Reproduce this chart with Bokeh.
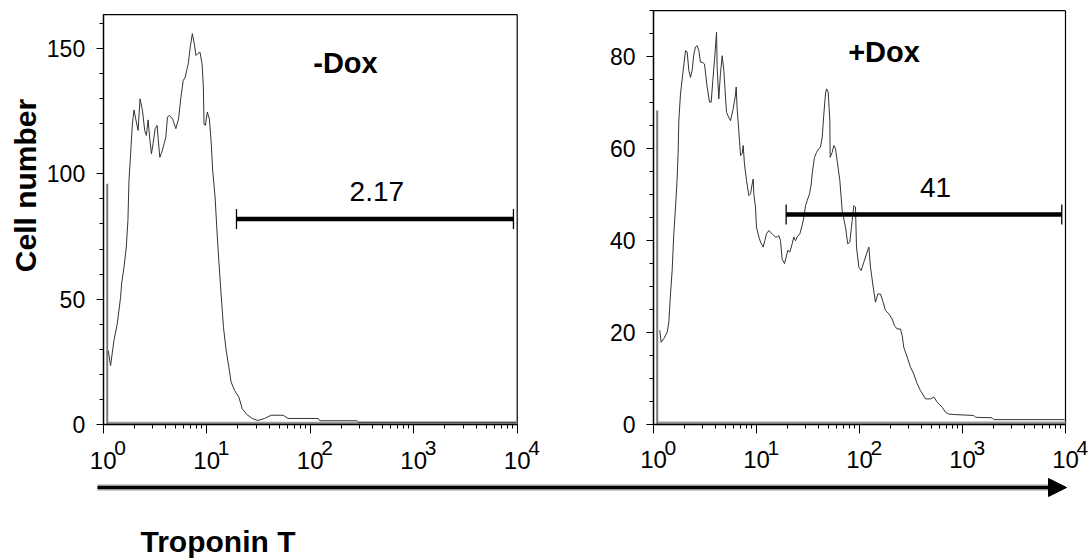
import math
from bokeh.plotting import figure
from bokeh.models import (Range1d, FixedTicker, Arrow, NormalHead, LogScale,
                          LogAxis, LinearAxis)
from bokeh.core.properties import value
from bokeh.embed import file_html
from bokeh.resources import INLINE

FONT = "Liberation Sans"

# ---------------- data (log10 fluorescence, cell counts) ----------------
neg_log_fl = [0.049, 0.071, 0.104, 0.136, 0.168, 0.178, 0.201, 0.223, 0.239, 0.249,
              0.265, 0.282, 0.298, 0.314, 0.337, 0.356, 0.379, 0.401, 0.417, 0.434,
              0.450, 0.466, 0.482, 0.502, 0.521, 0.531, 0.547, 0.566, 0.589, 0.605,
              0.621, 0.638, 0.670, 0.702, 0.728, 0.751, 0.773, 0.793, 0.806, 0.822,
              0.841, 0.861, 0.880, 0.896, 0.913, 0.935, 0.955, 0.968, 0.974, 0.987,
              1.006, 1.026, 1.042, 1.058, 1.081, 1.097, 1.117, 1.139, 1.162, 1.188,
              1.214, 1.236, 1.269, 1.311, 1.343, 1.388, 1.440, 1.495, 1.559, 1.624,
              1.738, 1.786, 2.078, 2.093, 2.450, 2.466, 3.990]
neg_counts = [29.5, 23.5, 33.5, 40.2, 50.8, 56.1, 62.8, 70.7, 81.4, 97.3,
              108.0, 119.9, 125.5, 121.9, 117.3, 129.9, 125.3, 117.3, 115.3, 121.5,
              114.0, 108.0, 112.0, 118.0, 119.3, 114.0, 106.6, 108.6, 112.0, 114.6,
              122.6, 123.3, 121.9, 118.0, 121.9, 130.6, 137.2, 138.6, 141.2, 143.9,
              150.5, 155.9, 151.9, 147.2, 147.9, 148.5, 143.9, 134.6, 119.9, 119.3,
              124.6, 121.9, 113.3, 101.3, 90.7, 78.7, 65.4, 52.1, 38.8, 29.5,
              22.9, 16.9, 13.6, 10.9, 6.3, 4.0, 2.4, 1.6, 2.4, 3.7,
              3.7, 2.4, 2.4, 1.5, 1.5, 0.9, 0.9]

pos_log_fl = [0.061, 0.074, 0.100, 0.133, 0.149, 0.165, 0.181, 0.197, 0.214, 0.230,
              0.239, 0.246, 0.262, 0.288, 0.311, 0.327, 0.343, 0.359, 0.375, 0.392,
              0.408, 0.424, 0.440, 0.456, 0.472, 0.495, 0.521, 0.544, 0.560, 0.576,
              0.592, 0.612, 0.618, 0.634, 0.650, 0.667, 0.683, 0.699, 0.709, 0.731,
              0.748, 0.770, 0.793, 0.803, 0.812, 0.828, 0.845, 0.861, 0.871, 0.883,
              0.903, 0.926, 0.942, 0.958, 0.968, 0.974, 0.990, 1.000, 1.023, 1.039,
              1.065, 1.081, 1.097, 1.120, 1.136, 1.152, 1.168, 1.184, 1.201, 1.217,
              1.233, 1.249, 1.272, 1.288, 1.304, 1.324, 1.346, 1.362, 1.379, 1.395,
              1.421, 1.443, 1.460, 1.476, 1.492, 1.515, 1.531, 1.544, 1.563, 1.583,
              1.605, 1.621, 1.638, 1.654, 1.670, 1.680, 1.696, 1.712, 1.715, 1.735,
              1.751, 1.767, 1.783, 1.809, 1.832, 1.864, 1.886, 1.906, 1.929, 1.945,
              1.961, 1.971, 1.994, 2.016, 2.042, 2.068, 2.091, 2.107, 2.133, 2.155,
              2.178, 2.204, 2.230, 2.252, 2.285, 2.317, 2.340, 2.366, 2.398, 2.414,
              2.430, 2.463, 2.495, 2.527, 2.560, 2.592, 2.641, 2.689, 2.722, 2.754,
              2.803, 2.835, 2.867, 2.916, 3.110, 3.126, 3.288, 3.304, 3.990]
pos_counts = [20.4, 17.8, 18.6, 20.0, 22.2, 28.3, 33.4, 41.4, 47.2, 53.7,
              58.8, 66.0, 71.8, 76.9, 81.2, 80.9, 76.9, 75.4, 76.9, 80.5,
              82.0, 82.3, 81.2, 78.7, 78.7, 78.3, 73.3, 70.0, 70.0, 74.7,
              79.1, 85.2, 77.6, 70.7, 76.2, 80.1, 76.9, 71.1, 67.8, 66.7,
              66.0, 68.2, 71.1, 73.3, 68.6, 63.8, 58.4, 58.8, 60.6, 56.6,
              53.0, 49.7, 50.1, 52.2, 53.3, 50.1, 47.2, 42.8, 40.7, 39.6,
              38.5, 39.9, 41.4, 42.1, 41.7, 41.4, 41.0, 40.7, 40.7, 41.0,
              39.9, 35.9, 34.9, 36.3, 37.8, 37.4, 39.2, 40.7, 39.9, 40.7,
              41.4, 43.2, 45.0, 47.5, 48.6, 50.1, 52.2, 55.1, 58.0, 59.1,
              59.9, 60.2, 62.4, 67.5, 71.8, 72.9, 72.2, 66.0, 58.0, 59.1,
              60.6, 59.9, 57.3, 53.0, 46.4, 42.8, 39.2, 39.6, 44.3, 47.5,
              47.2, 38.5, 34.1, 33.4, 35.2, 37.0, 38.5, 34.1, 29.8, 26.5,
              28.3, 28.3, 26.5, 24.7, 24.0, 22.9, 21.4, 20.7, 20.7, 19.3,
              16.7, 14.6, 12.4, 10.9, 8.8, 7.3, 5.5, 5.5, 5.9, 4.8,
              3.7, 2.6, 2.2, 2.1, 1.9, 1.5, 1.4, 1.0, 1.0]

neg_spike = (0.039, 96.0)      # first-channel spike (log10 x, count)
pos_spike = (0.036, 68.2)

gate_range = (19.4, 9200.0)
neg_gate_level = 82.0
pos_gate_level = 45.6
neg_gate_label = "2.17"
pos_gate_label = "41"
neg_title = "-Dox"
pos_title = "+Dox"

x_decades = [0, 1, 2, 3, 4]
neg_y_ticks = [0, 50, 100, 150]
neg_y_minor = list(range(0, 170, 10))
neg_y_max = 163.5
pos_y_ticks = [0, 20, 40, 60, 80]
pos_y_minor = list(range(0, 95, 5))
pos_y_max = 89.9

y_title = "Cell number"
x_title = "Troponin T"

# ---------------- page geometry (pixels) ----------------
W, H = 1089, 560
# panel: (screen x of 10^0, pixels per decade, screen y of count 0, pixels per count)
LEFT_GEOM = (102.7, 103.5, 424.0, 2.507)
RIGHT_GEOM = (653.0, 103.0, 423.7, 4.6)

p = figure(width=W, height=H, x_range=Range1d(0, W), y_range=Range1d(0, H),
           x_axis_type=None, y_axis_type=None, min_border=0, title=None,
           toolbar_location=None, output_backend="svg", outline_line_color=None,
           background_fill_color="white", border_fill_color="white")
p.grid.visible = False


def add_panel(name, geom, log_fl, counts, spike, gate_level, gate_label, title,
              y_max, y_ticks, y_minor, gate_label_logx, title_logx, title_y):
    x0, ppd, y0, ppu = geom
    xr, yr = name + "x", name + "y"
    p.extra_x_ranges[xr] = Range1d(10 ** (-x0 / ppd), 10 ** ((W - x0) / ppd))
    p.extra_x_scales[xr] = LogScale()
    p.extra_y_ranges[yr] = Range1d(-(H - y0) / ppu, y0 / ppu)
    upp = 1.0 / ppu
    kw = dict(x_range_name=xr, y_range_name=yr)
    x_lo, x_hi = 10 ** x_decades[0], 10 ** x_decades[-1]

    # frame top and right edges
    p.segment(x0=[x_lo, x_hi], y0=[y_max, 0], x1=[x_hi, x_hi], y1=[y_max, y_max],
              line_color="black", line_width=1.2, **kw)
    # gray zero line of the histogram + first-channel spike
    p.line([10 ** spike[0], x_hi], [1.5 * upp, 1.5 * upp], line_color="#9a9a9a",
           line_width=2.5, **kw)
    p.segment(x0=[10 ** spike[0]], y0=[0], x1=[10 ** spike[0]], y1=[spike[1]],
              line_color="#7a7a7a", line_width=2, **kw)
    p.line([10 ** v for v in log_fl], counts, line_color="#333333", line_width=1, **kw)

    # gate bar
    p.segment(x0=[gate_range[0]], y0=[gate_level], x1=[gate_range[1]], y1=[gate_level],
              line_color="black", line_width=4.5, **kw)
    h = 10 * upp
    p.segment(x0=list(gate_range), y0=[gate_level - h] * 2, x1=list(gate_range),
              y1=[gate_level + h] * 2, line_color="black", line_width=1.3, **kw)
    p.text(x=[10 ** gate_label_logx], y=[gate_level + 27 * upp], text=[gate_label],
           text_font=value(FONT), text_font_size="28px", text_align="center",
           text_baseline="middle", text_color="black", **kw)
    p.text(x=[10 ** title_logx], y=[title_y], text=[title], text_font=value(FONT),
           text_font_size="29px", text_font_style="bold", text_align="center",
           text_baseline="middle", text_color="black", **kw)

    # axes placed at the panel's own origin
    yax = LinearAxis(fixed_location=x_lo, bounds=(0, y_max),
                     ticker=FixedTicker(ticks=y_ticks, minor_ticks=y_minor), **kw)
    yax.major_label_text_font = FONT
    yax.major_label_text_font_size = "23px"
    yax.major_label_text_color = "black"
    yax.major_label_standoff = 11
    yax.major_tick_out = 7
    yax.major_tick_in = 0
    yax.minor_tick_out = 4
    yax.minor_tick_in = 0
    yax.axis_line_width = 1.5
    yax.major_tick_line_width = 1.2
    p.add_layout(yax, "left")

    majors = [10 ** k for k in x_decades]
    minors = [m * 10 ** k for k in x_decades[:-1] for m in range(2, 10)]
    xax = LogAxis(fixed_location=0, bounds=(x_lo, x_hi),
                  ticker=FixedTicker(ticks=majors, minor_ticks=minors), **kw)
    xax.major_label_overrides = {t: "10" for t in majors}
    xax.major_label_text_font = FONT
    xax.major_label_text_font_size = "24px"
    xax.major_label_text_color = "black"
    xax.major_label_standoff = 18
    xax.major_tick_out = 9
    xax.major_tick_in = 0
    xax.minor_tick_out = 4
    xax.minor_tick_in = 0
    xax.axis_line_width = 1.5
    p.add_layout(xax, "below")
    # exponents of the decade labels
    p.text(x=majors, y=[-23.5 * upp] * len(majors), text=[str(k) for k in x_decades],
           text_font=value(FONT), text_font_size="21px", text_align="left",
           text_baseline="middle", text_color="black", x_offset=11, **kw)


add_panel("neg", LEFT_GEOM, neg_log_fl, neg_counts, neg_spike, neg_gate_level,
          neg_gate_label, neg_title, neg_y_max, neg_y_ticks, neg_y_minor,
          2.644, 2.341, 144.2)
add_panel("pos", RIGHT_GEOM, pos_log_fl, pos_counts, pos_spike, pos_gate_level,
          pos_gate_label, pos_title, pos_y_max, pos_y_ticks, pos_y_minor,
          2.738, 2.238, 81.0)

# y title, long arrow and x title (page pixel coordinates, y from bottom)
p.text(x=[25], y=[H - 185], text=[y_title], angle=math.pi / 2, text_font=value(FONT),
       text_font_size="30px", text_font_style="bold", text_align="center",
       text_baseline="middle", text_color="black")
arrow_y = H - 487
p.add_layout(Arrow(x_start=97, y_start=arrow_y, x_end=1052, y_end=arrow_y, end=None,
                   line_color="#9a9a9a", line_width=6))
p.add_layout(Arrow(x_start=97, y_start=arrow_y, x_end=1066, y_end=arrow_y,
                   end=NormalHead(size=18, fill_color="black", line_color="black"),
                   line_color="black", line_width=3))
p.text(x=[140], y=[H - 540.5], text=[x_title], text_font=value(FONT), text_font_size="30px",
       text_font_style="bold", text_align="left", text_baseline="middle",
       text_color="black")

open("out.html", "w").write(file_html(p, INLINE))
